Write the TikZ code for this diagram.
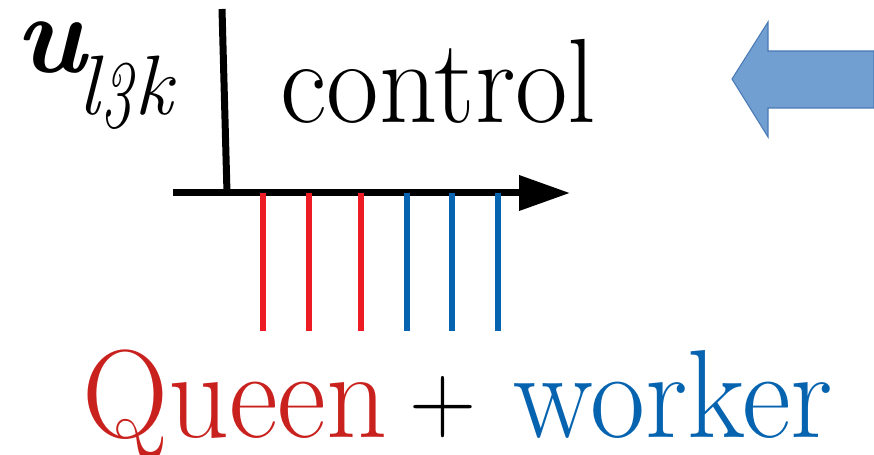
\documentclass[tikz,border=0pt]{standalone}
\usepackage{fontspec}
\usepackage{graphicx}
\usepackage{xcolor}
\usetikzlibrary{arrows.meta, positioning}
\definecolor{tickred}{HTML}{ED1C24}
\definecolor{queenred}{HTML}{C9211E}
\definecolor{workerblue}{HTML}{0563B0}
\definecolor{arrowfill}{HTML}{729FD2}
\definecolor{arrowdraw}{HTML}{4A7AB5}
\tikzstyle{axis} = [line width=0.14cm, line cap=butt]
\tikzstyle{tick} = [line width=0.12cm]
\tikzstyle{txt} = [inner sep=0pt, anchor=base west]
\newcommand{\tall}[1]{\scalebox{1}[1.05]{#1}}
\newcommand{\heavy}{\addfontfeatures{FakeBold=3}}

\begin{document}
\begin{tikzpicture}[x=0.02cm, y=-0.02cm]
        \useasboundingbox (0,0) rectangle (874,455);

        % Symbol
        \node (sym) [txt] at (15,73) {\fontsize{64}{64}\selectfont\bfseries\itshape u\mdseries
            \fontsize{48}{48}\selectfont\heavy\raisebox{-23.5pt}{\kern-4pt l\kern1pt\raisebox{-7.5pt}{\scalebox{0.75}[1.15]{3}}\kern1pt k}};

        % Achsen
        \coordinate (top) at (222,9);
        \coordinate (corner) at (227,193);
        \coordinate (left) at (173,193);
        \coordinate (right) at (570,193);
        \draw [axis] (top) -- (corner);
        \draw [axis, -{Triangle[length=1.02cm, width=0.68cm]}] (left) -- (right);

        \node (ctrl) [txt] at (280,123) {\fontsize{65}{70}\selectfont\heavy\tall{control}};

        % Striche
        \foreach \x in {263,309,361}
            \draw [tick, tickred] (\x,193) -- (\x,331);
        \foreach \x in {407,452,498}
            \draw [tick, workerblue] (\x,193) -- (\x,331);

        % Beschriftung
        \node (queen) [txt, text=queenred] at (82,437) {\fontsize{68}{70}\selectfont\heavy\tall{Queen}};
        \node (plus) [txt] at (409,431) {\fontsize{53}{53}\selectfont\heavy\tall{+}};
        \node (worker) [txt, text=workerblue] at (513,437) {\fontsize{68}{70}\selectfont\heavy\tall{worker}};

        % Blockpfeil
        \draw [fill=arrowfill, draw=arrowdraw, line width=0.6pt]
            (732,79) -- (768,22) -- (768,51) -- (874,51) -- (874,108) -- (768,108) -- (768,137) -- cycle;
    \end{tikzpicture}
\end{document}
